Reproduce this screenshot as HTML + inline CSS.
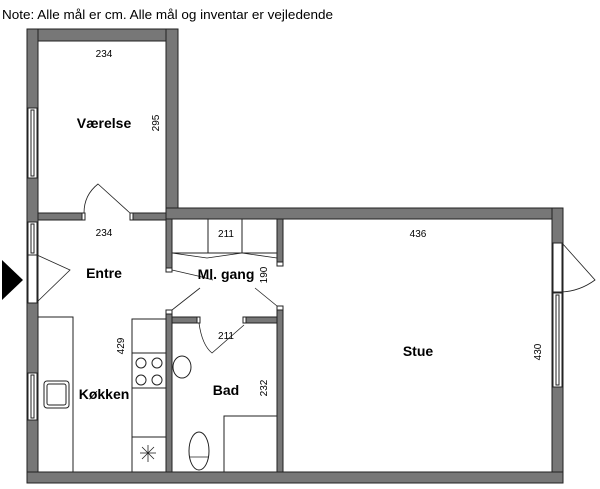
<!DOCTYPE html>
<html><head><meta charset="utf-8"><style>
html,body{margin:0;padding:0;background:#fff;width:600px;height:489px;overflow:hidden}
text{font-family:"Liberation Sans","DejaVu Sans",sans-serif}
</style></head><body>
<svg width="600" height="489" viewBox="0 0 600 489" xmlns="http://www.w3.org/2000/svg">
<text x="2" y="19" font-size="12.5" textLength="331" lengthAdjust="spacingAndGlyphs">Note: Alle mål er cm. Alle mål og inventar er vejledende</text>
<g fill="#777" stroke="#222" stroke-width="1">
<rect x="27" y="29" width="151" height="12"/>
<rect x="27" y="29" width="11" height="454"/>
<rect x="166" y="29" width="12" height="190"/>
<rect x="166" y="208" width="397" height="11"/>
<rect x="552" y="208" width="11" height="275"/>
<rect x="27" y="472" width="536" height="11"/>
<rect x="38" y="213" width="44" height="7"/>
<rect x="133" y="213" width="33" height="7"/>
<rect x="166" y="219" width="6" height="49"/>
<rect x="277" y="219" width="6" height="43"/>
<rect x="166" y="314" width="6" height="158"/>
<rect x="277" y="310" width="6" height="162"/>
<rect x="172" y="317" width="25" height="6"/>
<rect x="246" y="317" width="31" height="6"/>
</g>
<g fill="#fff" stroke="#222" stroke-width="1">
<rect x="28" y="108" width="9" height="70"/><rect x="31" y="110" width="3" height="66"/>
<rect x="28" y="222" width="9" height="33"/><rect x="31" y="224" width="3" height="29"/>
<rect x="28" y="255" width="9" height="48"/>
<rect x="28" y="373" width="9" height="47"/><rect x="31" y="375" width="3" height="43"/>
<rect x="553" y="243" width="9" height="49"/>
<rect x="553" y="293" width="9" height="94"/><rect x="556" y="295" width="3" height="90"/>
<rect x="82" y="213" width="3" height="7"/><rect x="130" y="213" width="3" height="7"/>
<rect x="197" y="317" width="3" height="6"/><rect x="243" y="317" width="3" height="6"/>
<rect x="166" y="268" width="6" height="4"/><rect x="277" y="262" width="6" height="4"/>
<rect x="166" y="310" width="6" height="4"/><rect x="277" y="306" width="6" height="4"/>
<rect x="38" y="317" width="35" height="155"/>
<rect x="44" y="381" width="25" height="27" rx="3"/><rect x="47" y="384" width="19" height="21" rx="2"/>
<rect x="132" y="319" width="34" height="153"/>
<line x1="132" y1="353" x2="166" y2="353"/><line x1="132" y1="388" x2="166" y2="388"/><line x1="132" y1="437" x2="166" y2="437"/>
<circle cx="141" cy="363" r="5"/><circle cx="157" cy="363" r="5"/><circle cx="141" cy="380" r="5"/><circle cx="157" cy="380" r="5"/>
<rect x="224" y="416" width="53" height="56"/>
<ellipse cx="182" cy="367" rx="9" ry="11"/>
<ellipse cx="199" cy="451" rx="10" ry="19"/>
<rect x="172" y="219" width="105" height="34"/>
<line x1="208" y1="219" x2="208" y2="253"/><line x1="242" y1="219" x2="242" y2="253"/>
</g>
<g fill="none" stroke="#222" stroke-width="0.8">
<path d="M172 253 L207 258 L242 253 L277 258"/>
<line x1="148" y1="445" x2="148" y2="462"/><line x1="140" y1="453" x2="156" y2="453"/>
<line x1="142" y1="447" x2="154" y2="459"/><line x1="154" y1="447" x2="142" y2="459"/>
<path d="M84 213 Q84 195 98 184 L130 213"/>
<path d="M37 255 L70 270 L37 302"/>
<path d="M562 243 L595 280 Q580 291 562 292"/>
<path d="M172 270 L198 276 L213 280"/>
<path d="M172 310 L200 288"/>
<path d="M277 306 L255 288"/>
<path d="M199 323 Q202 345 212 353 L244 325"/>
<line x1="189" y1="457" x2="209" y2="457"/>
</g>
<polygon points="2,260 23,280 2,300" fill="#000"/>
<g font-size="10" text-anchor="middle">
<text x="104" y="57">234</text>
<text x="104" y="236">234</text>
<text x="226" y="237">211</text>
<text x="226" y="339">211</text>
<text x="418" y="237">436</text>
<text transform="translate(159,123) rotate(-90)">295</text>
<text transform="translate(267,275) rotate(-90)">190</text>
<text transform="translate(124,346) rotate(-90)">429</text>
<text transform="translate(267,388) rotate(-90)">232</text>
<text transform="translate(541,352) rotate(-90)">430</text>
</g>
<g font-size="14" font-weight="bold" text-anchor="middle">
<text x="104" y="128">Værelse</text>
<text x="104" y="278">Entre</text>
<text x="226" y="279">Ml. gang</text>
<text x="104" y="399">Køkken</text>
<text x="226" y="395">Bad</text>
<text x="418" y="356">Stue</text>
</g>
</svg>
</body></html>
